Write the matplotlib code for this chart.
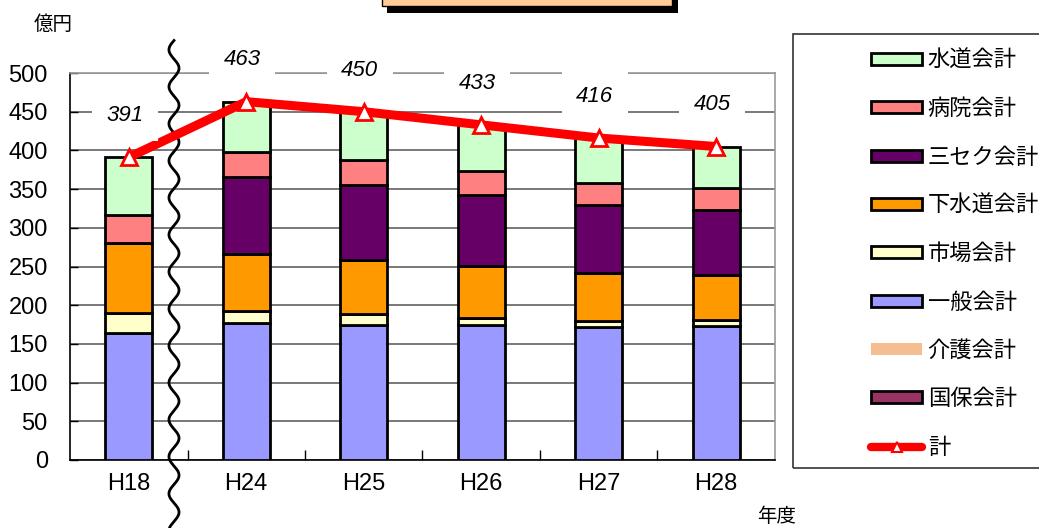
import numpy as np
import matplotlib
matplotlib.use("Agg")
import matplotlib.pyplot as plt
from matplotlib.patches import Rectangle, Patch
from matplotlib.lines import Line2D

plt.rcParams['font.family'] = ['Noto Sans CJK JP', 'DejaVu Sans']

years = ["H18", "H24", "H25", "H26", "H27", "H28"]

# 億円, bottom of the stack first
kokuho = [0, 0, 0, 0, 0, 0]
kaigo = [0, 0, 0, 0, 0, 0]
ippan = [164, 177, 175, 174, 172, 173]
shijo = [26, 15, 13, 10, 8, 8]
gesuido = [90, 74, 70, 67, 62, 58]
sanseku = [0, 100, 97, 92, 88, 84]
byoin = [36, 32, 33, 31, 28, 28]
suido = [75, 65, 62, 59, 58, 54]

series = [
    ("国保会計", kokuho, "#993366"),
    ("介護会計", kaigo, "#F5BE91"),
    ("一般会計", ippan, "#9999FF"),
    ("市場会計", shijo, "#FFFFCC"),
    ("下水道会計", gesuido, "#FF9900"),
    ("三セク会計", sanseku, "#660066"),
    ("病院会計", byoin, "#FF8080"),
    ("水道会計", suido, "#CCFFCC"),
]

W, H = 1039, 528
fig = plt.figure(figsize=(W / 100, H / 100), dpi=100)
ax = fig.add_axes([70 / W, 68 / H, 705 / W, 387 / H])

x = np.arange(len(years))
bottom = np.zeros(len(years))
for name, vals, col in series:
    vals = np.array(vals, dtype=float)
    ec = "none" if name == "介護会計" else "black"
    ax.bar(x, vals, 0.4, bottom=bottom, color=col, edgecolor=ec, linewidth=2, zorder=3)
    bottom += vals
total = bottom

ax.plot(x, total, color="#FF0000", lw=6.5, marker="^", ms=12, mfc="white",
        mec="#FF0000", mew=2, zorder=5, solid_capstyle="butt")
for xi, v in zip(x, total):
    ax.annotate(f"{int(v)}", (xi, v), xytext=(-3, 30), textcoords="offset points",
                ha="center", va="center", fontsize=16, style="italic",
                family=["Liberation Sans", "DejaVu Sans"], zorder=6,
                bbox=dict(boxstyle="square,pad=0.65", fc="white", ec="none"))

ax.set_xlim(-0.5, 5.5)
ax.set_ylim(0, 500)
ax.set_yticks(range(0, 501, 50))
ax.set_xticks(x)
ax.set_xticklabels(years)
ax.set_xticks(np.arange(0.5, 5, 1), minor=True)
ax.tick_params(axis="x", which="major", length=0, pad=9)
ax.tick_params(axis="x", which="minor", direction="in", length=7, width=1)
ax.tick_params(axis="y", direction="in", length=6, width=1, pad=16)
for lab in ax.get_xticklabels() + ax.get_yticklabels():
    lab.set_family(["Liberation Sans", "DejaVu Sans"])
    lab.set_fontsize(17)
ax.yaxis.grid(True, color="#555555", lw=1.1, zorder=0)
ax.set_axisbelow(True)
ax.spines["left"].set_color("black")
ax.spines["bottom"].set_color("black")
ax.spines["top"].set_color("#999999")
ax.spines["right"].set_color("#999999")
for s in ax.spines.values():
    s.set_linewidth(1.2)

# wavy break mark between H18 and H24
wy = np.linspace(542, -90, 600)
wx = 0.385 + 0.043 * np.sin(2 * np.pi * (wy - 542) / 47.8)
ax.plot(wx, wy, color="black", lw=2, clip_on=False, zorder=4)

fig.text(53 / W, 1 - 24 / H, "億円", fontsize=14, ha="center", va="center")
fig.text(777 / W, 1 - 516 / H, "年度", fontsize=14, ha="center", va="center")

# title box at the top edge
fig.patches.append(Rectangle((387 / W, 1 - 13 / H), 291 / W, 30 / H,
                             transform=fig.transFigure, fc="black", ec="none"))
fig.patches.append(Rectangle((382 / W, 1 - 6 / H), 290 / W, 30 / H,
                             transform=fig.transFigure, fc="#FFCC99", ec="black", lw=1))

# legend frame and entries
fig.patches.append(Rectangle((793 / W, 60 / H), 260 / W, 434 / H,
                             transform=fig.transFigure, fill=False, ec="#333333", lw=1.2))
handles = []
labels = []
for name, vals, col in reversed(series):
    ec = "none" if name == "介護会計" else "black"
    handles.append(Patch(fc=col, ec=ec, lw=2))
    labels.append(name)
handles.append(Line2D([], [], color="#FF0000", lw=6, marker="^", ms=7, mfc="white",
                      mec="#FF0000", mew=1.5, solid_capstyle="round"))
labels.append("計")
fig.legend(handles, labels, loc="upper left", bbox_to_anchor=(871 / W, 1 - 49 / H),
           frameon=False, fontsize=16, handlelength=2.3, handleheight=0.45,
           handletextpad=0.25, labelspacing=1.14, borderpad=0, borderaxespad=0)

fig.savefig("out.png", dpi=100)
